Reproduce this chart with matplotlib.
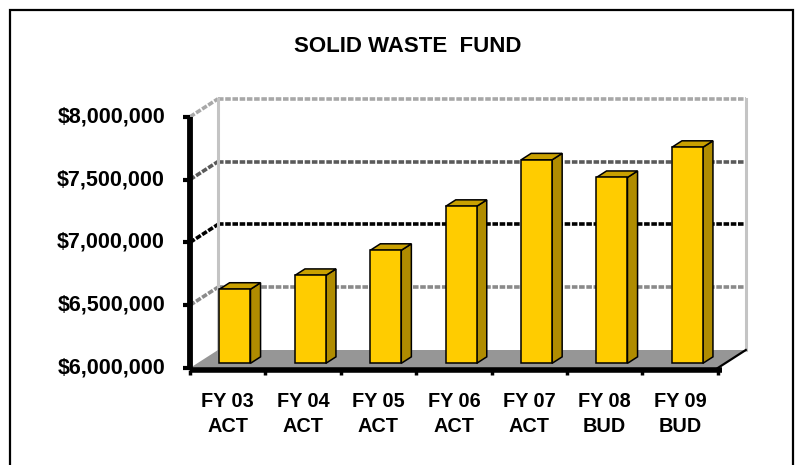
import matplotlib
matplotlib.use('Agg')
import matplotlib.pyplot as plt
from matplotlib.patches import Polygon, Rectangle
import numpy as np

plt.rcParams['font.family'] = ['Liberation Sans', 'DejaVu Sans']
plt.rcParams['lines.scale_dashes'] = False

# ---------------- data ----------------
categories = ['FY 03\nACT', 'FY 04\nACT', 'FY 05\nACT', 'FY 06\nACT',
              'FY 07\nACT', 'FY 08\nBUD', 'FY 09\nBUD']
values = [6590000, 6700000, 6900000, 7250000, 7620000, 7480000, 7720000]
yticks = [6000000, 6500000, 7000000, 7500000, 8000000]
ytick_labels = ['$6,000,000', '$6,500,000', '$7,000,000', '$7,500,000', '$8,000,000']
title = 'SOLID WASTE  FUND'

# ---------------- layout (pixels) ----------------
W, H = 798, 465
x0_px, cat_px = 190.0, 75.4      # left of front plane, width of one category
y0_px, half_px = 368.0, 62.8     # pixel row of the lowest tick, pixels per 500,000
depth_dx_px, depth_dy_px = 28.0, 18.0

fig = plt.figure(figsize=(W / 100, H / 100), dpi=100)
ax = fig.add_axes([0, 0, 1, 1])
ax.axis('off')

ymin, ymax = yticks[0], yticks[-1]
step = yticks[1] - yticks[0]
ppv = half_px / step
ax.set_xlim(-0.5 - x0_px / cat_px, -0.5 + (W - x0_px) / cat_px)
ax.set_ylim(ymin - (H - y0_px) / ppv, ymin + y0_px / ppv)

DX = depth_dx_px / cat_px
DY = depth_dy_px / ppv
n = len(categories)
xl, xr = -0.5, n - 0.5

# ---------------- walls & gridlines ----------------
grid_colors = {6500000: '#8a8a8a', 7000000: '#000000', 7500000: '#5a5a5a', 8000000: '#a8a8a8'}
dash = (0, (4.0, 1.2))
for v in yticks[1:]:
    c = grid_colors.get(v, '#808080')
    ax.plot([xl + DX, xr + DX], [v + DY, v + DY], color=c, lw=2.6,
            linestyle=dash, zorder=1, dash_capstyle='butt')
    ax.plot([xl, xl + DX], [v, v + DY], color=c, lw=2.6,
            linestyle=dash, zorder=1, dash_capstyle='butt')

# wall edges
ax.plot([xl + DX, xl + DX], [ymin + DY, ymax + DY], color='#c4c4c4', lw=2.2, zorder=1.5)
ax.plot([xr + DX, xr + DX], [ymin + DY, ymax + DY], color='#c4c4c4', lw=2.2, zorder=1.5)

# floor
floor = Polygon([(xl, ymin), (xr, ymin), (xr + DX, ymin + DY), (xl + DX, ymin + DY)],
                closed=True, facecolor='#969696', edgecolor='none', zorder=2)
ax.add_patch(floor)
ax.plot([xr, xr + DX], [ymin, ymin + DY], color='black', lw=1.6, zorder=2.5)

# ---------------- bars ----------------
D0 = 0.26      # depth position of bar front face
BD = 0.36      # bar depth
bw = 31.0 / cat_px
xs = np.arange(n) + D0 * DX
base = ymin + D0 * DY
heights = np.array(values) - ymin
ax.bar(xs, heights, bottom=base, width=bw, color='#FFCC00', edgecolor='black',
       linewidth=1.1, zorder=4)
for x, h in zip(xs, heights):
    r = x + bw / 2
    l = x - bw / 2
    top = base + h
    side = Polygon([(r, base), (r + BD * DX, base + BD * DY),
                    (r + BD * DX, top + BD * DY), (r, top)],
                   closed=True, facecolor='#B08C00', edgecolor='black', lw=1.1, zorder=3.8)
    topf = Polygon([(l, top), (r, top), (r + BD * DX, top + BD * DY),
                    (l + BD * DX, top + BD * DY)],
                   closed=True, facecolor='#C9A000', edgecolor='black', lw=1.1, zorder=3.9)
    ax.add_patch(side)
    ax.add_patch(topf)

# ---------------- axes ----------------
ax.plot([xl, xl], [ymin - 2 / ppv, ymax], color='black', lw=4.2, zorder=10,
        solid_capstyle='butt')
ax.plot([xl, xr + 0.05], [ymin - 2 / ppv, ymin - 2 / ppv], color='black', lw=4.0,
        zorder=10, solid_capstyle='butt')
tick_dx = 7 / cat_px
for v in yticks:
    ax.plot([xl - tick_dx, xl], [v, v], color='black', lw=3.0, zorder=10,
            solid_capstyle='butt')
for k in range(n + 1):
    ax.plot([xl + k, xl + k], [ymin - 2 / ppv, ymin - 7 / ppv], color='black', lw=2.5,
            zorder=10, solid_capstyle='butt')

# tick labels
lab_x = xl - 25 / cat_px
for v, s in zip(yticks, ytick_labels):
    ax.text(lab_x, v, s, ha='right', va='center', fontsize=15.5, fontweight='bold',
            color='black')

for i, s in enumerate(categories):
    ax.text(i, ymin - 24 / ppv, s, ha='center', va='top', fontsize=14.3,
            fontweight='bold', color='black', linespacing=1.38)

# title
ax.text(xl + (408 - x0_px) / cat_px, ymin + (y0_px - 46) / ppv, title, ha='center',
        va='center', fontsize=16, fontweight='bold', color='black')

# outer border
fig.patches.append(Rectangle((10 / W, -0.05), (793 - 10) / W, (H - 10) / H + 0.05,
                             transform=fig.transFigure, fill=False,
                             edgecolor='black', lw=1.6))

fig.savefig('out.png', dpi=100)
